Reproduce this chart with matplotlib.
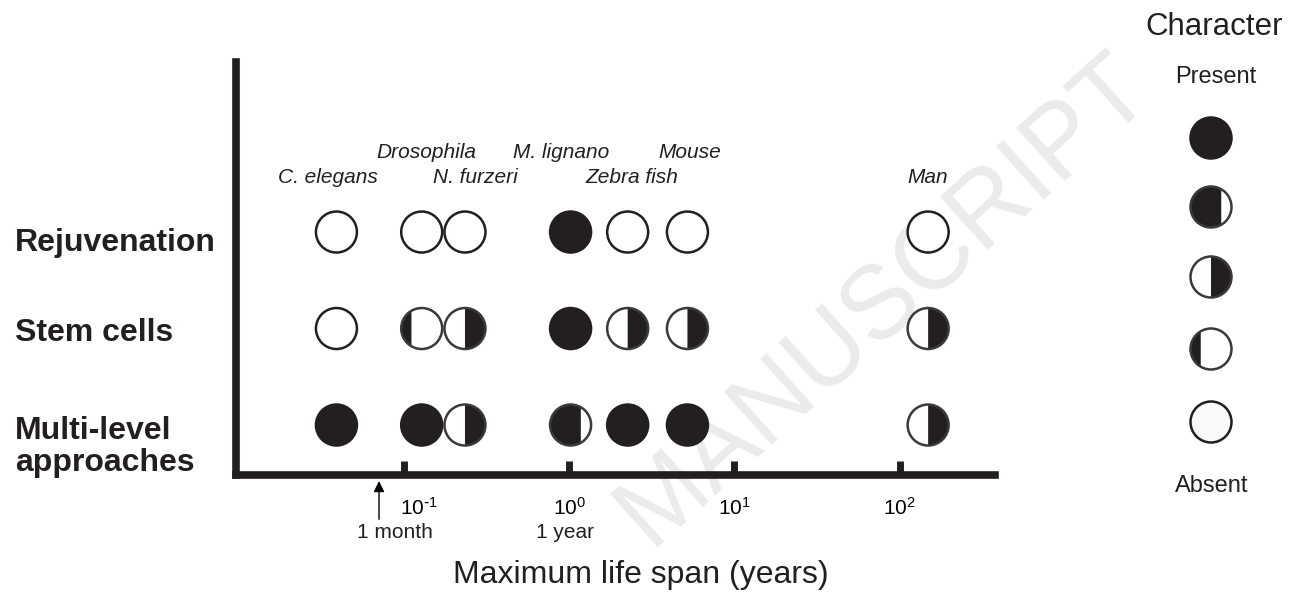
import numpy as np
import matplotlib
matplotlib.use('Agg')
import matplotlib.pyplot as plt
from matplotlib.patches import Circle, Polygon
from matplotlib.transforms import ScaledTranslation

plt.rcParams['font.family'] = ['Liberation Sans', 'DejaVu Sans']
plt.rcParams['mathtext.default'] = 'regular'

# data
species = ['C. elegans', 'Drosophila', 'N. furzeri', 'M. lignano', 'Zebra fish', 'Mouse', 'Man']
lifespan_years = [0.039, 0.128, 0.234, 1.02, 2.26, 5.2, 149]
row_names = ['Rejuvenation', 'Stem cells', 'Multi-level\napproaches']
rejuvenation = ['empty', 'empty', 'empty', 'full', 'empty', 'empty', 'empty']
stem_cells = ['empty', 'left25', 'right50', 'full', 'right50', 'right50', 'right50']
multi_level = ['full', 'full', 'right50', 'left75', 'full', 'full', 'right50']
decade_ticks = [0.1, 1, 10, 100]
decade_labels = [r'$10^{\text{-}1}$', '$10^{0}$', '$10^{1}$', '$10^{2}$']
one_month = 0.0706
legend_states = ['full', 'left75', 'right50', 'left25', 'empty']

BLACK = '#231f20'
EDGE = '#3a3a3c'
R = 0.205  # circle radius in inches


def chord_shape(c, side):
    # black part of the circle cut by a vertical chord at x = c
    a = np.arccos(c)
    if side == 'left':
        t = np.linspace(a, 2 * np.pi - a, 80)
    else:
        t = np.linspace(-a, a, 80)
    return np.column_stack([np.cos(t), np.sin(t)]) * R


def draw_state(ax, x, y, state, face='white'):
    tr = ax.figure.dpi_scale_trans + ScaledTranslation(x, y, ax.transData)
    kw = dict(transform=tr, clip_on=False, zorder=3)
    if state == 'full':
        ax.add_patch(Circle((0, 0), R, facecolor=BLACK, edgecolor=BLACK, lw=1.8, **kw))
        return
    ax.add_patch(Circle((0, 0), R, facecolor=face, edgecolor='none', **kw))
    if state == 'left75':
        ax.add_patch(Polygon(chord_shape(0.5, 'left'), facecolor=BLACK, edgecolor='none', **kw))
    elif state == 'right50':
        ax.add_patch(Polygon(chord_shape(0.0, 'right'), facecolor=BLACK, edgecolor='none', **kw))
    elif state == 'left25':
        ax.add_patch(Polygon(chord_shape(-0.5, 'left'), facecolor=BLACK, edgecolor='none', **kw))
    ec = BLACK if state == 'empty' else EDGE
    ax.add_patch(Circle((0, 0), R, facecolor='none', edgecolor=ec, lw=1.8, **kw))


W, H = 1296, 603
fig = plt.figure(figsize=(W / 100, H / 100), dpi=100)

# overlay in pixel units for legend and watermark
lax = fig.add_axes([0, 0, 1, 1], zorder=-1)
lax.set_xlim(0, W)
lax.set_ylim(H, 0)
lax.set_axis_off()
lax.text(885, 300, 'MANUSCRIPT', rotation=42, fontsize=74, color='#ebebeb',
         ha='center', va='center', rotation_mode='anchor', zorder=0)

# main chart
ax = fig.add_axes([236 / W, 1 - 475 / H, (995 - 236) / W, (475 - 62) / H])
ax.patch.set_visible(False)
ax.set_xscale('log')
ax.set_xlim(10 ** -2.017, 10 ** 2.578)
ax.set_ylim(2.518, -1.762)
for s in ['top', 'right']:
    ax.spines[s].set_visible(False)
for s in ['left', 'bottom']:
    ax.spines[s].set_linewidth(5.5)
    ax.spines[s].set_color(BLACK)
ax.set_yticks([])
ax.set_xticks(decade_ticks, decade_labels)
ax.minorticks_off()
ax.tick_params(axis='x', direction='in', length=10, width=5, color=BLACK,
               pad=16, labelsize=15)
lab0 = ax.get_xticklabels()[0]
lab0.set_transform(lab0.get_transform() + ScaledTranslation(0.15, 0, fig.dpi_scale_trans))

for row, states in enumerate([rejuvenation, stem_cells, multi_level]):
    for x, st in zip(lifespan_years, states):
        draw_state(ax, x, row, st)

label_dx = [-9, 5, 10, -9, 4, 2, 0]
label_dy = [55, 80, 55, 80, 55, 80, 55]
for name, x, dx, dy in zip(species, lifespan_years, label_dx, label_dy):
    ax.annotate(name, xy=(x, 0), xytext=(dx * 0.72, dy * 0.72), textcoords='offset points',
                ha='center', va='center', fontsize=15, style='italic', color=BLACK,
                annotation_clip=False)

row_y = [243, 333, 447]
for name, y in zip(row_names, row_y):
    fig.text(15 / W, 1 - y / H, name, ha='left', va='center', fontsize=23,
             fontweight='bold', color=BLACK, linespacing=1.05)

# 1 month arrow and time labels
ax.annotate('', xy=(one_month, -0.008), xycoords=('data', 'axes fraction'),
            xytext=(one_month, -0.114), textcoords=('data', 'axes fraction'),
            arrowprops=dict(arrowstyle='-|>', color='black', lw=1, mutation_scale=16),
            annotation_clip=False)
ax.annotate('1 month', xy=(one_month, 0), xycoords=('data', 'axes fraction'),
            xytext=(16 * 0.72, -58 * 0.72), textcoords='offset points',
            ha='center', va='center', fontsize=15, color=BLACK, annotation_clip=False)
ax.annotate('1 year', xy=(1, 0), xycoords=('data', 'axes fraction'),
            xytext=(-4 * 0.72, -58 * 0.72), textcoords='offset points',
            ha='center', va='center', fontsize=15, color=BLACK, annotation_clip=False)

ax.set_xlabel('Maximum life span (years)', fontsize=23, color=BLACK)
ax.xaxis.set_label_coords(0.534, -0.205)

# legend
legend_y = [138, 207, 277, 349, 422]
for st, y in zip(legend_states, legend_y):
    draw_state(lax, 1211, y, st, face='#f8f9f8' if st == 'empty' else 'white')
lax.text(1214, 27, 'Character', ha='center', va='center', fontsize=22.5, color=BLACK)
lax.text(1216, 77, 'Present', ha='center', va='center', fontsize=17, color=BLACK)
lax.text(1212, 486, 'Absent', ha='center', va='center', fontsize=17, color=BLACK)

fig.savefig('out.png', dpi=100)
